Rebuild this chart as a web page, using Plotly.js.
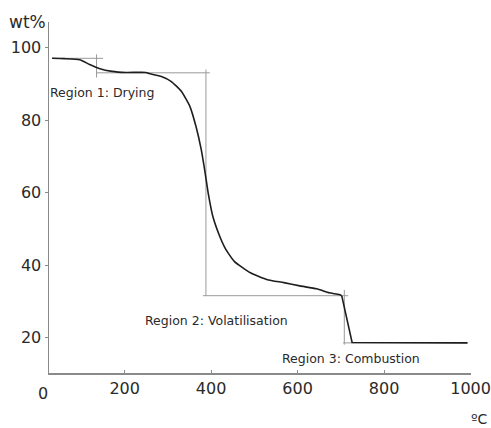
<!DOCTYPE html>
<html>
<head>
<meta charset="utf-8">
<script src="https://cdn.plot.ly/plotly-3.0.1.min.js"></script>
<style>html,body{margin:0;padding:0;background:#fff;}#chart{width:491px;height:428px;}</style>
</head>
<body>
<div id="chart"></div>
<script>
// TGA curve (temperature °C, weight %): smooth part then combustion step
const temperature = [32, 60, 96, 119, 141, 171, 203, 249, 256, 285, 308, 331, 351, 365, 377, 386, 393, 404, 420, 431, 438, 454, 491, 530, 568, 605, 644, 673, 696, 702];
const weightPct   = [97.0, 96.9, 96.6, 95.3, 94.2, 93.4, 93.1, 93.1, 92.8, 92.0, 90.6, 87.9, 83.7, 78.2, 71.9, 65.5, 60.0, 53.4, 47.9, 45.0, 43.6, 41.0, 37.9, 36.0, 35.2, 34.3, 33.5, 32.4, 31.9, 31.6];
const combustionT = [702, 726, 993];
const combustionW = [31.6, 18.7, 18.6];

// construction lines (x pairs, y pairs)
const guideX = [[32, 150], [135, 135], [135, 397], [388, 388], [381, 717], [708, 708], [705, 993]];
const guideY = [[97.0, 97.0], [98.1, 91.7], [93.0, 93.0], [93.9, 31.6], [31.6, 31.6], [33.2, 18.1], [18.6, 18.6]];

const regionLabels = ["Region 1: Drying", "Region 2: Volatilisation", "Region 3: Combustion"];
const labelX = [148, 413, 724];
const labelY = [87.6, 24.7, 14.4];

const xTicks = [200, 400, 600, 800, 1000];
const yTicks = [20, 40, 60, 80, 100];

const FONT = "'DejaVu Sans', sans-serif";
const TXT = '#2a2a2a';

const traces = guideX.map((gx, i) => ({
  x: gx, y: guideY[i], mode: 'lines', type: 'scatter',
  line: {color: '#9a9a9a', width: 1}, hoverinfo: 'skip', showlegend: false
}));
traces.push({
  x: temperature, y: weightPct, mode: 'lines', type: 'scatter',
  line: {color: '#1e1e1e', width: 1.6, shape: 'spline', smoothing: 0.5}, showlegend: false
});
traces.push({
  x: combustionT, y: combustionW, mode: 'lines', type: 'scatter',
  line: {color: '#1e1e1e', width: 1.6}, showlegend: false
});

const annotations = regionLabels.map((t, i) => ({
  text: t, x: labelX[i], y: labelY[i], xref: 'x', yref: 'y',
  showarrow: false, font: {family: FONT, size: 12.5, color: TXT}
}));
annotations.push({text: 'wt%', xref: 'paper', yref: 'paper', x: -0.05, y: 1.0, xanchor: 'center', yanchor: 'middle', showarrow: false, font: {family: FONT, size: 17, color: TXT}});
annotations.push({text: '0', xref: 'paper', yref: 'paper', x: -0.014, y: 0, yshift: -20, xanchor: 'center', yanchor: 'middle', showarrow: false, font: {family: FONT, size: 16, color: TXT}});
annotations.push({text: 'ºC', xref: 'paper', yref: 'paper', x: 1.045, y: 0, yshift: -46, xanchor: 'right', yanchor: 'middle', showarrow: false, font: {family: FONT, size: 14, color: TXT}});

const layout = {
  width: 491, height: 428,
  margin: {l: 49, r: 20, t: 22, b: 55},
  paper_bgcolor: '#fff', plot_bgcolor: '#fff',
  showlegend: false,
  font: {family: FONT, color: TXT},
  xaxis: {
    range: [25, 1001], tickvals: xTicks, ticktext: xTicks.map(String),
    showgrid: false, zeroline: false, showline: true, linecolor: '#8a8a8a', linewidth: 1.5,
    ticks: 'inside', ticklen: 3, tickcolor: '#8a8a8a', ticklabeloverflow: 'allow',
    tickfont: {family: FONT, size: 16, color: TXT}
  },
  yaxis: {
    range: [10.3, 107], tickvals: yTicks, ticktext: yTicks.map(String),
    showgrid: false, zeroline: false, showline: true, linecolor: '#8a8a8a', linewidth: 1.5,
    ticks: 'outside', ticklen: 3, tickcolor: '#8a8a8a',
    tickfont: {family: FONT, size: 16, color: TXT}
  },
  annotations: annotations
};

Plotly.newPlot('chart', traces, layout, {staticPlot: true, displayModeBar: false});
</script>
</body>
</html>
